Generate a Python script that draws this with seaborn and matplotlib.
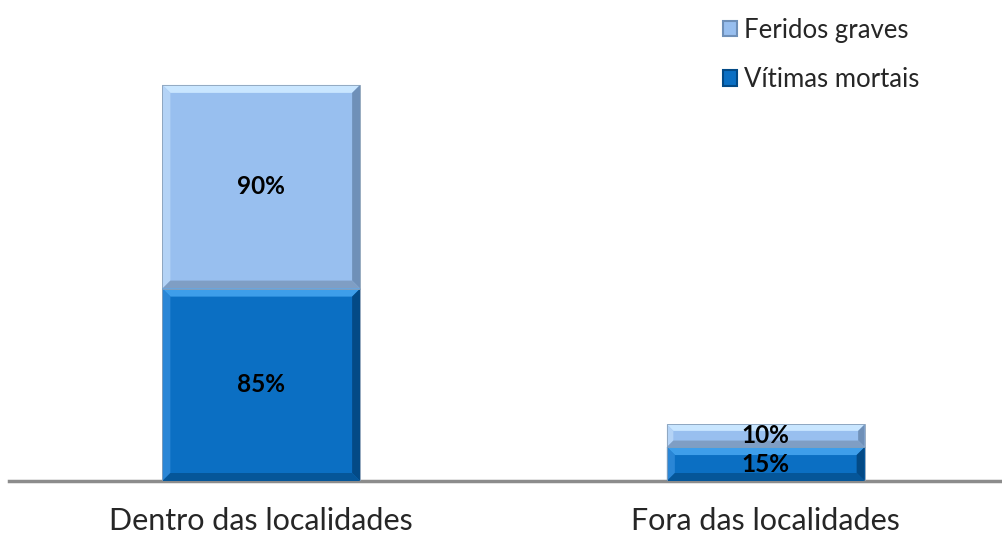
import matplotlib
matplotlib.use("Agg")
import matplotlib.pyplot as plt
import seaborn as sns
import pandas as pd
from matplotlib.patches import Polygon, Patch

categories = ["Dentro das localidades", "Fora das localidades"]
vitimas_mortais = [85, 15]
feridos_graves = [90, 10]
labels_mortais = ["85%", "15%"]
labels_feridos = ["90%", "10%"]
series_names = ["Feridos graves", "Vítimas mortais"]

sns.set_theme(style="white")
plt.rcParams['font.family'] = ['Lato', 'DejaVu Sans']

light = {"face": "#98BFEF", "top": "#C9E6FF", "left": "#B4D3F6", "right": "#6F90B8", "bottom": "#7F9EC4"}
dark = {"face": "#0B6FC3", "top": "#3E9EEA", "left": "#2A86D6", "right": "#034A86", "bottom": "#055699"}

df = pd.DataFrame({
    "cat": categories,
    "total": [m + f for m, f in zip(vitimas_mortais, feridos_graves)],
    "mortais": vitimas_mortais,
})

fig = plt.figure(figsize=(10.03, 5.37), dpi=100)
ax = fig.add_axes([9/1003, (537-481)/537, 1009/1003, 481/537])

sns.barplot(data=df, x="cat", y="total", color=light["face"], saturation=1, width=0.392, ax=ax, linewidth=0)
n_light = len(ax.patches)
sns.barplot(data=df, x="cat", y="mortais", color=dark["face"], saturation=1, width=0.392, ax=ax, linewidth=0)

ax.set_xlim(-0.5, 1.5)
ax.set_ylim(0, 212.5)

fig.canvas.draw()
x0, y0 = ax.transData.transform((0, 0))
x1, y1 = ax.transData.transform((1, 1))
sx = x1 - x0
sy = y1 - y0

def bevel(rect, bottom, pal):
    x = rect.get_x(); w = rect.get_width()
    h = rect.get_height() - bottom
    yb = bottom; yt = bottom + h
    bpx = min(8.0, h * sy / 3.5)
    bx = bpx / sx; by = bpx / sy
    xl, xr = x, x + w
    ax.add_patch(Polygon([(xl, yt), (xr, yt), (xr - bx, yt - by), (xl + bx, yt - by)], closed=True, facecolor=pal["top"], lw=0, zorder=3))
    ax.add_patch(Polygon([(xl, yb), (xl, yt), (xl + bx, yt - by), (xl + bx, yb + by)], closed=True, facecolor=pal["left"], lw=0, zorder=3))
    ax.add_patch(Polygon([(xr, yb), (xr, yt), (xr - bx, yt - by), (xr - bx, yb + by)], closed=True, facecolor=pal["right"], lw=0, zorder=3))
    ax.add_patch(Polygon([(xl, yb), (xr, yb), (xr - bx, yb + by), (xl + bx, yb + by)], closed=True, facecolor=pal["bottom"], lw=0, zorder=3))
    ax.add_patch(Polygon([(xl, yb), (xr, yb), (xr, yt), (xl, yt)], closed=True, facecolor="none", edgecolor="#8AA0B8", lw=0.6, zorder=3))

light_patches = ax.patches[:n_light]
dark_patches = ax.patches[n_light:2 * n_light]
for i, (lp, dp) in enumerate(zip(light_patches, dark_patches)):
    bevel(lp, vitimas_mortais[i], light)
    bevel(dp, 0, dark)
    cx = lp.get_x() + lp.get_width() / 2
    ax.text(cx, vitimas_mortais[i] / 2, labels_mortais[i], ha="center", va="center",
            fontsize=17.5, fontweight="bold", color="black", zorder=5)
    ax.text(cx, vitimas_mortais[i] + feridos_graves[i] / 2, labels_feridos[i], ha="center", va="center",
            fontsize=17.5, fontweight="bold", color="black", zorder=5)

for s in ["top", "right", "left"]:
    ax.spines[s].set_visible(False)
ax.spines["bottom"].set_color("#8C8C8C")
ax.spines["bottom"].set_linewidth(2.5)
ax.set_yticks([])
ax.set_xlabel("")
ax.set_ylabel("")
ax.tick_params(axis="x", length=0, pad=19, labelsize=22)

handles = [Patch(facecolor=light["face"], edgecolor=light["right"], linewidth=1.5),
           Patch(facecolor=dark["face"], edgecolor=dark["right"], linewidth=1.5)]
fig.legend(handles, series_names, loc="upper left", bbox_to_anchor=(700/1003, 1.01),
           frameon=False, fontsize=18.5, handlelength=0.55, handleheight=0.55,
           handletextpad=0.25, labelspacing=0.95)

fig.savefig("out.png", dpi=100)
